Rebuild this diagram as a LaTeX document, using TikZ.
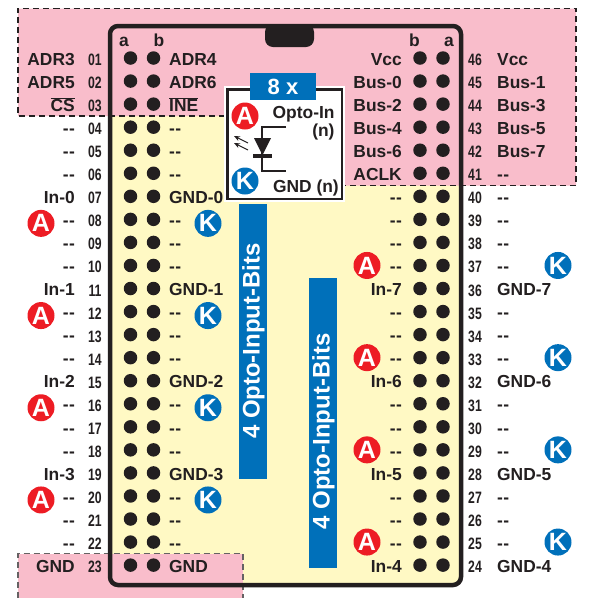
\documentclass[tikz,border=0pt]{standalone}
\usepackage{fontspec}
\setmainfont{Liberation Sans}
\usetikzlibrary{arrows.meta}
\definecolor{ink}{HTML}{231F20}
\definecolor{pinkzone}{HTML}{F9BDCB}
\definecolor{yellowzone}{HTML}{FFF9C4}
\definecolor{bluebar}{HTML}{0070BA}
\definecolor{redpin}{HTML}{ED1C24}
\newcommand*{\pinno}[1]{\scalebox{.74}[1]{#1}}
\newcommand*{\rowy}[1]{58+(#1)*23.05}
\newcommand*{\nc}{-\kern.3pt-}
\tikzset{
  lbl/.style={font=\bfseries\fontsize{17.4}{17.4}\selectfont,text=ink,inner sep=0pt,anchor=base},
  lblr/.style={lbl,anchor=base east},
  lbll/.style={lbl,anchor=base west},
  num/.style={lbl,font=\bfseries\fontsize{16.5}{16.5}\selectfont},
  hole/.style={fill=ink,circle,minimum size=13.5pt,inner sep=0pt},
  badge/.style={circle,minimum size=27pt,inner sep=0pt,text=white,font=\bfseries\fontsize{25}{25}\selectfont},
  badgeA/.style={badge,fill=redpin},
  badgeK/.style={badge,fill=bluebar},
  zone/.style={dash pattern=on 6pt off 4pt,line width=1.1pt,draw=ink},
  vbar/.style={text=white,rotate=90,inner sep=0pt,font=\bfseries\fontsize{24}{24}\selectfont}
}

\begin{document}
\begin{tikzpicture}[x=1pt,y=-1pt]
\useasboundingbox (0,0) rectangle (594,598);
% Chip body and zones
\fill[yellowzone,rounded corners=8pt] (110,26) rectangle (461,585);
\fill[pinkzone] (18,8.5) -- (576,8.5) -- (576,185.5) -- (345,185.5) -- (345,116) -- (18,116) -- cycle;
\fill[pinkzone] (18,553.5) rectangle (243,598);
\draw[zone] (225,116) -- (18,116) -- (18,8.5) -- (576,8.5) -- (576,185.5) -- (345,185.5);
\draw[zone,draw=ink!70] (18,598) -- (18,553.5) -- (243,553.5) -- (243,598);
\draw[line width=4.5pt,ink,rounded corners=8pt] (110,26) rectangle (461,585);
\fill[ink,rounded corners=8pt] (265,24) -- (265,47) -- (314,47) -- (314,24) -- cycle;

\node[lbl] (ca) at (124,46) {a};
\node[lbl] (cb) at (159,46) {b};
\node[lbl] (cd) at (414.5,46) {b};
\node[lbl] (cc) at (449,46) {a};

% Left pin rows
\foreach \i in {0,...,22}{
  \pgfmathtruncatemacro{\n}{\i+1}
  \node[hole] (la\i) at (130.5,{\rowy{\i}}) {};
  \node[hole] (lb\i) at (153.5,{\rowy{\i}}) {};
  \node[num] (ln\i) at (95,{\rowy{\i}+7.5}) {\pinno{\ifnum\n<10 0\fi\n}};
}
\foreach \t [count=\i from 0] in {ADR3,ADR5,{$\overline{\mbox{CS}}$},\nc,\nc,\nc,In-0,\nc,\nc,\nc,In-1,\nc,\nc,\nc,In-2,\nc,\nc,\nc,In-3,\nc,\nc,\nc,GND}
  \node[lblr] (lo\i) at (75,{\rowy{\i}+7.2}) {\t};
\foreach \t [count=\i from 0] in {ADR4,ADR6,{$\overline{\mbox{INE}}$},\nc,\nc,\nc,GND-0,\nc,\nc,\nc,GND-1,\nc,\nc,\nc,GND-2,\nc,\nc,\nc,GND-3,\nc,\nc,\nc,GND}
  \node[lbll] (li\i) at (169,{\rowy{\i}+7.2}) {\t};

% Right pin rows
\foreach \i in {0,...,22}{
  \pgfmathtruncatemacro{\n}{46-\i}
  \node[hole] (ra\i) at (443,{\rowy{\i}}) {};
  \node[hole] (rb\i) at (420,{\rowy{\i}}) {};
  \node[num] (rn\i) at (475,{\rowy{\i}+7.5}) {\pinno{\n}};
}
\foreach \t [count=\i from 0] in {Vcc,Bus-0,Bus-2,Bus-4,Bus-6,ACLK,\nc,\nc,\nc,\nc,In-7,\nc,\nc,\nc,In-6,\nc,\nc,\nc,In-5,\nc,\nc,\nc,In-4}
  \node[lblr] (ri\i) at (402,{\rowy{\i}+7.2}) {\t};
\foreach \t [count=\i from 0] in {Vcc,Bus-1,Bus-3,Bus-5,Bus-7,\nc,\nc,\nc,\nc,\nc,GND-7,\nc,\nc,\nc,GND-6,\nc,\nc,\nc,GND-5,\nc,\nc,\nc,GND-4}
  \node[lbll] (ro\i) at (497,{\rowy{\i}+7.2}) {\t};

% Anode and cathode badges
\foreach \i in {7,11,15,19}{
  \node[badgeA] (ba\i) at (41,{\rowy{\i}+4}) {A};
  \node[badgeK] (bk\i) at (208,{\rowy{\i}+4}) {K};
}
\foreach \i in {9,13,17,21}{
  \node[badgeA] (ca\i) at (367,{\rowy{\i}}) {A};
  \node[badgeK] (ck\i) at (558,{\rowy{\i}}) {K};
}

% Legend box
\fill[white] (223.5,86) rectangle (345,202);
\draw[ink,line width=2.6pt] (227.5,89.5) rectangle (342,199);
\node[fill=bluebar,text=white,inner sep=0pt,minimum width=66pt,minimum height=27pt,
  font=\bfseries\fontsize{22}{22}\selectfont] (eight) at (283,86.5) {8 x};
\node[badgeA] (legA) at (245,116) {A};
\node[badgeK] (legK) at (245,181) {K};
\node[lblr] (optoin) at (334.7,118) {Opto-In};
\node[lblr] (optoinn) at (334.7,136) {(n)};
\node[lblr] (gndn) at (339,192) {GND (n)};
\coordinate (wt) at (286,127);
\coordinate (wb) at (286,171);
\draw[ink,line width=2pt] (wt) -- (262,127) -- (262,171) -- (wb);
\fill[ink] (254,138) -- (271,138) -- (262.5,155) -- cycle;
\draw[ink,line width=3.5pt] (253,156) -- (272,156);
\foreach \y in {143,150}
  \draw[-{Stealth[length=6pt,width=5pt]},ink,line width=1pt] (248,\y) -- (234,\y-7);

% Blue bars
\fill[bluebar] (239,204) rectangle (267,479);
\fill[bluebar] (309,278) rectangle (337,568);
\node[vbar] (bits1) at (253.5,341) {4 Opto-Input-Bits};
\node[vbar] (bits2) at (323.5,431.5) {4 Opto-Input-Bits};
\end{tikzpicture}
\end{document}
